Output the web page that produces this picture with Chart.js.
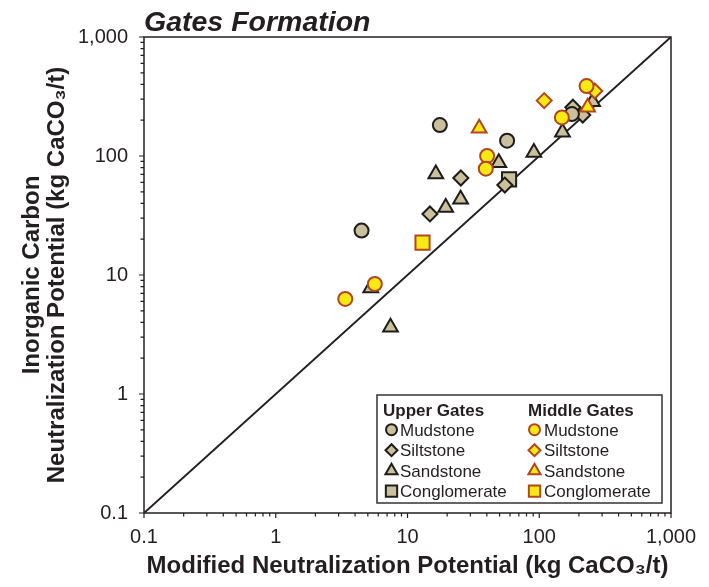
<!DOCTYPE html>
<html>
<head>
<meta charset="utf-8">
<script src="https://cdn.jsdelivr.net/npm/chart.js@4.4.0/dist/chart.umd.min.js"></script>
<style>
  html, body { margin: 0; padding: 0; background: #fff; }
</style>
</head>
<body>
<canvas id="grafico" width="709" height="587"></canvas>
<script>
// eixos log-log, 0.1 a 1000
const axisMin = 0.1;
const axisMax = 1000;
const tickValues = [0.1, 1, 10, 100, 1000];
const tickLabels = ['0.1', '1', '10', '100', '1,000'];

// Upper Gates (MNP x, ICNP y)
const upperMudstoneX = [4.48, 17.6, 57, 177];
const upperMudstoneY = [23.6, 182, 134.5, 225];
const upperSiltstoneX = [14.8, 25.4, 54.8, 180, 214];
const upperSiltstoneY = [32.6, 65.3, 57, 257, 221];
const upperSandstoneX = [7.43, 5.26, 16.4, 19.5, 25.3, 49.3, 91, 150, 254];
const upperSandstoneY = [3.64, 7.78, 70.6, 37, 43.3, 87.9, 107, 158, 286];
const upperConglomerateX = [59];
const upperConglomerateY = [63.7];

// Middle Gates
const middleMudstoneX = [3.37, 5.65, 40.2, 39.3, 148.5, 228.6];
const middleMudstoneY = [6.29, 8.4, 100, 78.2, 211, 387];
const middleSiltstoneX = [109, 264];
const middleSiltstoneY = [292, 352];
const middleSandstoneX = [35, 233];
const middleSandstoneY = [171, 257];
const middleConglomerateX = [13];
const middleConglomerateY = [18.7];

// linha 1:1
const lineX = [0.1, 1000];
const lineY = [0.1, 1000];

const groupNames = ['Upper Gates', 'Middle Gates'];
const rockNames = ['Mudstone', 'Siltstone', 'Sandstone', 'Conglomerate'];

const fonte = 'Arial, "Liberation Sans", Helvetica, sans-serif';
const corEixo = '#231f20';
const tanFill = '#c9c09d';
const tanBorda = '#1e1c1a';
const amareloFill = '#f7ea14';
const amareloBorda = '#b2461c';

const estilos = ['circle', 'rectRot', 'triangle', 'rect'];
const raios = { circle: 7, rectRot: 7.5, triangle: 8.5, rect: 10 };
const raiosLegenda = { circle: 5.5, rectRot: 6, triangle: 7, rect: 8 };

function pares(xs, ys) {
    return xs.map((x, i) => ({ x: x, y: ys[i] }));
}

function montarTicks() {
    const lista = [];
    tickValues.forEach((v, i) => {
        lista.push({ value: v, major: true });
        if (i < tickValues.length - 1) {
            for (let m = 2; m <= 9; m++) lista.push({ value: v * m, major: false });
        }
    });
    return lista;
}

function rotulo(valor) {
    const i = tickValues.indexOf(valor);
    return i >= 0 ? tickLabels[i] : '';
}

const seriesUpper = [
    pares(upperMudstoneX, upperMudstoneY),
    pares(upperSiltstoneX, upperSiltstoneY),
    pares(upperSandstoneX, upperSandstoneY),
    pares(upperConglomerateX, upperConglomerateY)
];
const seriesMiddle = [
    pares(middleMudstoneX, middleMudstoneY),
    pares(middleSiltstoneX, middleSiltstoneY),
    pares(middleSandstoneX, middleSandstoneY),
    pares(middleConglomerateX, middleConglomerateY)
];

const datasets = [];
seriesMiddle.forEach((dados, i) => {
    datasets.push({
        label: 'Middle Gates ' + rockNames[i],
        data: dados,
        pointStyle: estilos[i],
        pointRadius: raios[estilos[i]],
        backgroundColor: amareloFill,
        borderColor: amareloBorda,
        borderWidth: 2,
        order: 1
    });
});
seriesUpper.forEach((dados, i) => {
    datasets.push({
        label: 'Upper Gates ' + rockNames[i],
        data: dados,
        pointStyle: estilos[i],
        pointRadius: raios[estilos[i]],
        backgroundColor: tanFill,
        borderColor: tanBorda,
        borderWidth: 2,
        order: 2
    });
});
datasets.push({
    type: 'line',
    label: '1:1',
    data: pares(lineX, lineY),
    borderColor: corEixo,
    borderWidth: 2,
    pointRadius: 0,
    fill: false,
    order: 10
});

// moldura do gráfico e marcas dos ticks (maiores nas décadas)
const moldura = {
    id: 'moldura',
    beforeDatasetsDraw(chart) {
        const { ctx, chartArea: a, scales } = chart;
        ctx.save();
        ctx.strokeStyle = corEixo;
        ctx.lineWidth = 1.5;
        ctx.strokeRect(a.left, a.top, a.right - a.left, a.bottom - a.top);
        ctx.lineWidth = 1.2;
        ctx.beginPath();
        scales.x.ticks.forEach(t => {
            const px = scales.x.getPixelForValue(t.value);
            ctx.moveTo(px, a.bottom);
            ctx.lineTo(px, a.bottom + (t.major ? 5 : 3.5));
        });
        scales.y.ticks.forEach(t => {
            const py = scales.y.getPixelForValue(t.value);
            ctx.moveTo(a.left, py);
            ctx.lineTo(a.left - (t.major ? 5 : 3.5), py);
        });
        ctx.stroke();
        ctx.restore();
    }
};

// legenda em duas colunas (Upper / Middle)
const legendaGrupos = {
    id: 'legendaGrupos',
    afterDraw(chart) {
        const { ctx, chartArea: a } = chart;
        const w = 285, h = 108;
        const x0 = a.right - 9 - w;
        const y0 = a.bottom - 10 - h;
        ctx.save();
        ctx.fillStyle = '#fff';
        ctx.fillRect(x0, y0, w, h);
        ctx.strokeStyle = '#333';
        ctx.lineWidth = 1.5;
        ctx.strokeRect(x0, y0, w, h);

        const colunas = [
            { header: x0 + 6, simbolo: x0 + 14.5, texto: x0 + 23, fill: tanFill, borda: tanBorda },
            { header: x0 + 151, simbolo: x0 + 157.5, texto: x0 + 167, fill: amareloFill, borda: amareloBorda }
        ];
        colunas.forEach((c, gi) => {
            ctx.fillStyle = corEixo;
            ctx.textBaseline = 'alphabetic';
            ctx.textAlign = 'left';
            ctx.font = 'bold 17px ' + fonte;
            ctx.fillText(groupNames[gi], c.header, y0 + 21);
            rockNames.forEach((nome, ri) => {
                const base = y0 + 40.7 + ri * 20.5;
                const estilo = estilos[ri];
                ctx.fillStyle = c.fill;
                ctx.strokeStyle = c.borda;
                ctx.lineWidth = 2;
                Chart.helpers.drawPoint(ctx, {
                    pointStyle: estilo,
                    radius: raiosLegenda[estilo],
                    rotation: 0,
                    borderWidth: 2
                }, c.simbolo, base - 6);
                ctx.fillStyle = corEixo;
                ctx.font = '17px ' + fonte;
                ctx.fillText(nome, c.texto, base);
            });
        });
        ctx.restore();
    }
};

Chart.defaults.font.family = fonte;
Chart.defaults.color = corEixo;

const ctx = document.getElementById('grafico').getContext('2d');
new Chart(ctx, {
    type: 'scatter',
    data: { datasets: datasets },
    options: {
        responsive: false,
        animation: false,
        layout: { padding: { left: 0, right: 38, top: 0, bottom: 0 } },
        plugins: {
            legend: { display: false },
            tooltip: { enabled: false },
            title: {
                display: true,
                text: 'Gates Formation',
                align: 'start',
                fullSize: false,
                color: corEixo,
                font: { size: 28.5, weight: 'bold', style: 'italic', lineHeight: 1.0 },
                padding: { top: 9, bottom: -0.5 }
            }
        },
        scales: {
            x: {
                type: 'logarithmic',
                min: axisMin,
                max: axisMax,
                afterBuildTicks: s => { s.ticks = montarTicks(); },
                afterFit: s => { s.height = 74; },
                grid: { display: false, drawTicks: false },
                border: { display: false },
                ticks: {
                    autoSkip: false,
                    maxRotation: 0,
                    padding: 12,
                    font: { size: 20 },
                    callback: v => rotulo(v)
                },
                title: {
                    display: true,
                    text: 'Modified Neutralization Potential (kg CaCO\u2083/t)',
                    font: { size: 24, weight: 'bold', lineHeight: 1.05 },
                    padding: { top: 0, bottom: 8 }
                }
            },
            y: {
                type: 'logarithmic',
                min: axisMin,
                max: axisMax,
                afterBuildTicks: s => { s.ticks = montarTicks(); },
                afterFit: s => { s.width = 144; },
                grid: { display: false, drawTicks: false },
                border: { display: false },
                ticks: {
                    autoSkip: false,
                    padding: 16,
                    font: { size: 20 },
                    callback: v => rotulo(v)
                },
                title: {
                    display: true,
                    text: ['Inorganic Carbon', 'Neutralization Potential (kg CaCO\u2083/t)'],
                    font: { size: 24, weight: 'bold', lineHeight: 1.05 },
                    padding: { top: 20, bottom: 0 }
                }
            }
        }
    },
    plugins: [moldura, legendaGrupos]
});
</script>
</body>
</html>
